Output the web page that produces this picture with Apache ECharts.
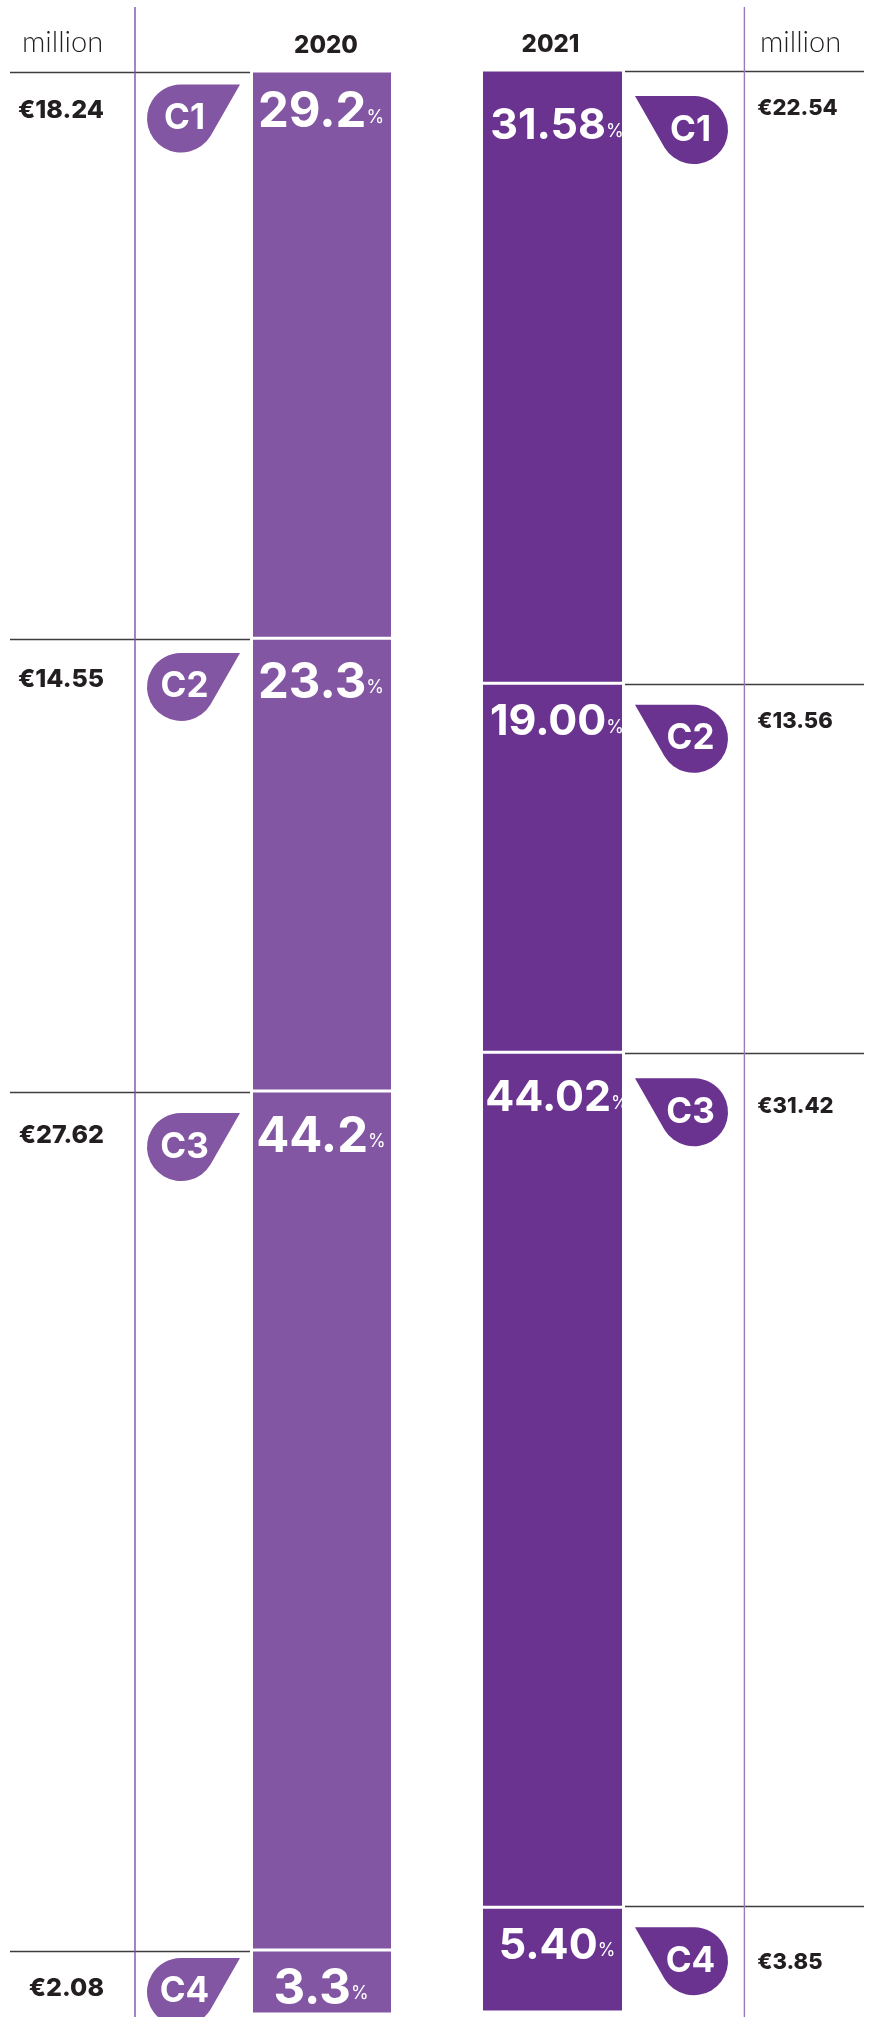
<!DOCTYPE html>
<html><head><meta charset="utf-8">
<style>html,body{margin:0;padding:0;background:#fff}#c{width:870px;height:2017px}</style>
<script src="https://cdn.jsdelivr.net/npm/echarts@6/dist/echarts.min.js"></script>
</head><body><div id="c"></div>
<script>
// ---- data ----
const classes = ['C1','C2','C3','C4'];
const years = ['2020','2021'];
const share2020 = ['29.2','23.3','44.2','3.3'];
const share2021 = ['31.58','19.00','44.02','5.40'];
const amount2020 = ['18.24','14.55','27.62','2.08'];
const amount2021 = ['22.54','13.56','31.42','3.85'];
const unitLabel = 'million';

// ---- layout (pixel nudges relative to the scale positions) ----
const FONT = 'Inter, "Noto Sans", sans-serif';
const INK = '#231f20';
const C_2020 = '#8256a2', C_2021 = '#6a3390';
const layout = [
  { share: share2020, amount: amount2020, color: C_2020, year: years[0],
    bar: {left: 251.5, width: 141, top: 71, height: 1943},
    rule: {left: 10, width: 240, top: 72, height: 1943}, cats: ['amount','badge'],
    pct: {size: 49, dx: -1, dy: [41.5, 44.5, 46, 39]},
    badgeDy: [46.5, 47.6, 55, 41.1], badgeDx: 3.5, textDx: -9,
    amtDy: [38.5, 40.6, 43.5, 38], amtDx: 34, amtAlign: 'right', amtSize: 25,
    yearPad: [0,0,0,8],
    path: 'path://M34 0L93 0L63.7 51.5A34 34 0 1 1 34 0Z' },
  { share: share2021, amount: amount2021, color: C_2021, year: years[1],
    bar: {left: 481.5, width: 142, top: 70, height: 1942},
    rule: {left: 625, width: 239, top: 71.5, height: 1940}, cats: ['badge','amount'],
    pct: {size: 43, dx: 4.5, dy: [56.5, 39, 46, 38.5]},
    badgeDy: [58.5, 54.7, 59.5, 54.5], badgeDx: -3.25, textDx: 9,
    amtDy: [36.5, 37.7, 53.5, 55.5], amtDx: -47, amtAlign: 'left', amtSize: 22,
    yearPad: [0,4,0,0],
    path: 'path://M59 0L0 0L29.3 51.5A34 34 0 1 0 59 0Z' }
];

const grids = [], xAxes = [], yAxes = [], series = [];
const scaleY = g => ({ gridIndex: g, type: 'value', inverse: true, min: 0, max: 100, show: false });

layout.forEach(L => {
  const barG = grids.length;
  grids.push(Object.assign({containLabel: false}, L.bar));
  xAxes.push({ gridIndex: barG, type: 'category', position: 'top', data: [L.year],
    axisLine: {show: false}, axisTick: {show: false},
    axisLabel: {color: INK, fontFamily: FONT, fontWeight: 800, fontSize: 24, margin: 13, padding: L.yearPad} });
  yAxes.push(scaleY(barG));

  const ruleG = grids.length;
  grids.push(L.rule);
  xAxes.push({ gridIndex: ruleG, type: 'category', data: L.cats, show: false });
  yAxes.push(scaleY(ruleG));

  // cumulative starts
  const starts = [];
  L.share.reduce((s, v, i) => { starts[i] = s; return s + parseFloat(v); }, 0);

  L.share.forEach((v, i) => {
    series.push({
      type: 'bar', name: L.year + ' ' + classes[i], stack: L.year, xAxisIndex: barG, yAxisIndex: barG,
      barWidth: '100%', data: [parseFloat(v)], animation: false, silent: true,
      itemStyle: {color: L.color, borderColor: '#fff', borderWidth: 1.5},
      label: { show: true, position: 'insideTop', distance: 0, verticalAlign: 'middle',
        offset: [L.pct.dx, L.pct.dy[i]],
        formatter: () => '{v|' + v + '}{p|%}',
        rich: {
          v: {fontFamily: FONT, fontWeight: 700, fontSize: L.pct.size, color: '#fff'},
          p: {fontFamily: FONT, fontWeight: 400, fontSize: 18, color: '#fff', padding: [10,0,0,0]}
        } }
    });
  });

  // rules, drawn at the start of each class
  series.push({
    type: 'scatter', xAxisIndex: ruleG, yAxisIndex: ruleG, data: [], animation: false, silent: true,
    markLine: { symbol: 'none', silent: true, animation: false, label: {show: false},
      lineStyle: {color: '#3f3d3e', width: 1.3, type: 'solid', opacity: 1},
      data: starts.map(s => ({yAxis: s})) }
  });

  // badges
  series.push({
    type: 'scatter', xAxisIndex: ruleG, yAxisIndex: ruleG, animation: false, silent: true, clip: false, z: 5,
    data: classes.map((c, i) => ({
      name: c, value: ['badge', starts[i]],
      symbol: L.path, symbolSize: [93, 68], symbolOffset: [L.badgeDx, L.badgeDy[i]],
      itemStyle: {color: L.color, opacity: 1},
      label: { show: true, position: 'inside', formatter: c, color: '#fff',
        fontFamily: FONT, fontWeight: 700, fontSize: 35, offset: [L.textDx, 0] }
    }))
  });

  // amounts
  series.push({
    type: 'scatter', xAxisIndex: ruleG, yAxisIndex: ruleG, animation: false, silent: true, clip: false, z: 5,
    symbolSize: 1, itemStyle: {color: 'rgba(0,0,0,0)', opacity: 1},
    data: L.amount.map((a, i) => ({
      value: ['amount', starts[i]],
      label: { show: true, position: 'inside', formatter: '€' + a, color: INK, align: L.amtAlign,
        verticalAlign: 'middle', fontFamily: FONT, fontWeight: 800, fontSize: L.amtSize,
        offset: [L.amtDx, L.amtDy[i]] }
    }))
  });
});

const unitText = (x) => ({ type: 'text', x, y: 43, z: 20, silent: true,
  style: { text: unitLabel, fill: INK, font: '300 29px Lato, "Noto Sans", sans-serif', textAlign: 'left', textVerticalAlign: 'middle' } });
const vLine = (x, color) => ({ type: 'line', z: 20, silent: true,
  shape: {x1: x, y1: 7, x2: x, y2: 2017}, style: {stroke: color, lineWidth: 1.4} });

const chart = echarts.init(document.getElementById('c'), null, {renderer: 'canvas'});
chart.setOption({
  backgroundColor: '#fff', animation: false,
  grid: grids, xAxis: xAxes, yAxis: yAxes, series,
  graphic: [ unitText(22), unitText(760), vLine(135, '#7f4fa5'), vLine(744.4, '#9b77bb') ]
});
</script></body></html>
